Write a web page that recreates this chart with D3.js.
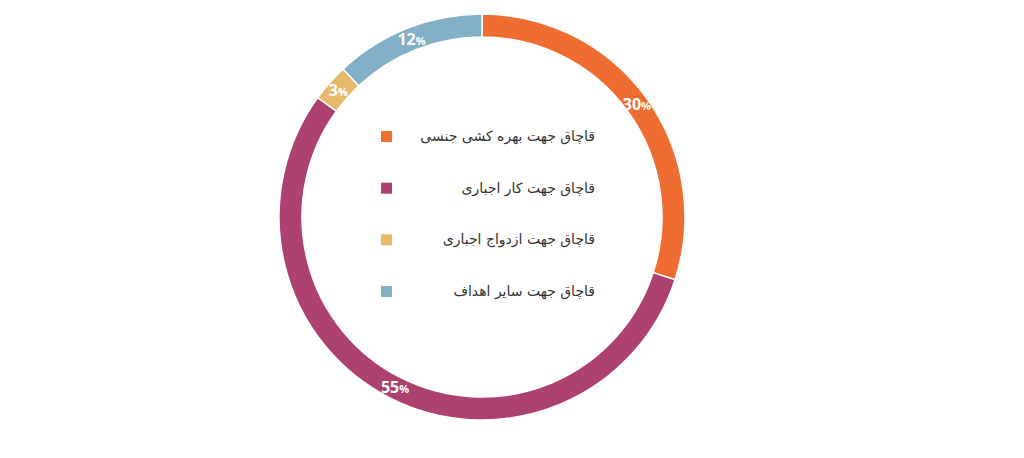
<!DOCTYPE html>
<html><head><meta charset="utf-8">
<script src="https://cdn.jsdelivr.net/npm/d3@7"></script>
<style>body{margin:0;background:#fff}</style>
</head><body>
<svg id="chart" width="1024" height="458"></svg>
<script>
const categories = ['قاچاق جهت بهره کشی جنسی', 'قاچاق جهت کار اجباری', 'قاچاق جهت ازدواج اجباری', 'قاچاق جهت سایر اهداف'];
const values = [30, 55, 3, 12];
const colors = ['#ef6d31', '#ad4170', '#e6ba6a', '#83b0c6'];

const svg = d3.select('#chart');
const cx = 482, cy = 217, outer = 203, inner = 180;
const g = svg.append('g').attr('transform', `translate(${cx},${cy})`);

const pie = d3.pie().sort(null).value(d => d);
const arcs = pie(values);
const arc = d3.arc().innerRadius(inner).outerRadius(outer);
const labelArc = d3.arc().innerRadius((inner + outer) / 2).outerRadius((inner + outer) / 2);

g.selectAll('path').data(arcs).enter().append('path')
    .attr('d', arc)
    .attr('fill', (d, i) => colors[i])
    .attr('stroke', '#fff').attr('stroke-width', 1.5);

const lbl = g.selectAll('text.lbl').data(arcs).enter().append('text')
    .attr('class', 'lbl')
    .attr('transform', d => `translate(${labelArc.centroid(d)})`)
    .attr('text-anchor', 'middle').attr('dy', '0.35em')
    .attr('fill', '#fff').attr('font-family', 'Open Sans, sans-serif').attr('font-weight', 'bold')
    .attr('font-size', 16);
lbl.append('tspan').text(d => d.data);
lbl.append('tspan').attr('font-size', 11).text('%');

// legend
const y = d3.scalePoint().domain(categories).range([136, 291]);
const leg = svg.append('g');
categories.forEach((c, i) => {
    leg.append('rect').attr('x', 381).attr('y', y(c) - 5).attr('width', 11).attr('height', 11).attr('fill', colors[i]);
    leg.append('text').attr('x', 595).attr('y', y(c)).attr('dy', '0.35em')
        .attr('text-anchor', 'start').attr('direction', 'rtl')
        .attr('font-family', 'DejaVu Sans, Noto Sans, sans-serif').attr('font-size', 14).attr('fill', '#333')
        .text(c);
});
</script>
</body></html>
